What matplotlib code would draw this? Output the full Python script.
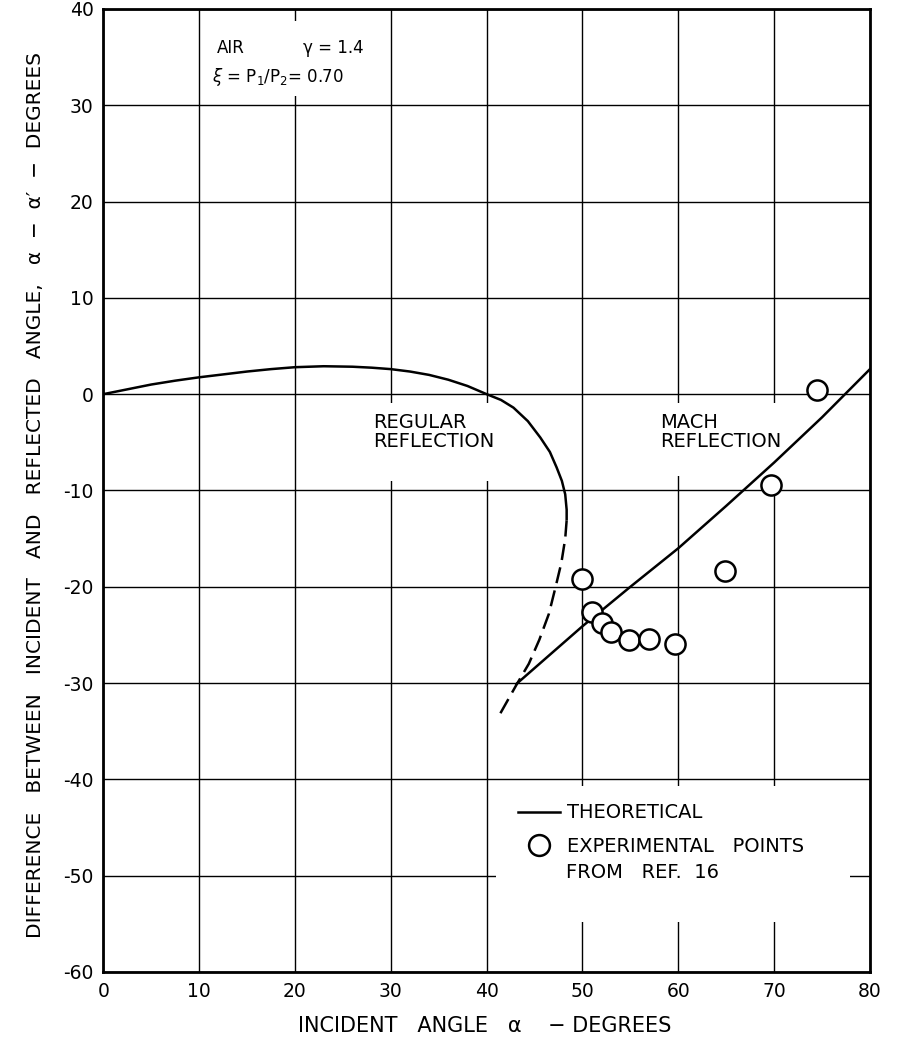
import matplotlib
matplotlib.use("Agg")
import matplotlib.pyplot as plt
from matplotlib.patches import Rectangle
from matplotlib.lines import Line2D

plt.rcParams['font.family'] = ['DejaVu Sans']
plt.rcParams['mathtext.fontset'] = 'dejavusans'

# ---- data ----
x_ticks = [0, 10, 20, 30, 40, 50, 60, 70, 80]
y_ticks = [-60, -50, -40, -30, -20, -10, 0, 10, 20, 30, 40]
x_ticklabels = ['0', '10', '20', '30', '40', '50', '60', '70', '80']
y_ticklabels = ['-60', '-50', '-40', '-30', '-20', '-10', '0', '10', '20', '30', '40']

# regular reflection, theoretical (solid part)
regular_x = [0, 2.5, 5, 7.5, 10, 12.5, 15, 17.5, 20, 23, 26, 28, 30, 32, 34, 36, 38, 40,
             41.5, 42.8, 44.3, 45.6, 46.6, 47.3, 47.85, 48.2, 48.35, 48.35]
regular_y = [0, 0.5, 1.0, 1.4, 1.75, 2.05, 2.35, 2.6, 2.8, 2.9, 2.85, 2.75, 2.6, 2.35, 2.0, 1.5, 0.85, 0.0,
             -0.6, -1.4, -2.8, -4.5, -6.0, -7.6, -9.0, -10.4, -12.0, -13.1]

# regular reflection, theoretical continuation (dashed)
regular_dash_x = [48.35, 48.2, 47.8, 47.2, 46.5, 45.5, 44.4, 43.1, 41.4]
regular_dash_y = [-13.1, -15.0, -17.5, -20.0, -22.8, -25.5, -28.0, -30.2, -33.2]

# Mach reflection, theoretical
mach_x = [43.1, 50, 55, 60, 65, 70, 75, 80]
mach_y = [-30.1, -24.1, -20.0, -16.0, -11.6, -7.1, -2.4, 2.6]

# experimental points from Ref. 16
exp_x = [49.9, 51.0, 52.0, 53.0, 54.85, 56.9, 59.7, 64.9, 69.7, 74.5]
exp_y = [-19.2, -22.65, -23.8, -24.7, -25.5, -25.4, -25.9, -18.35, -9.45, 0.4]

# ---- figure ----
fig = plt.figure(figsize=(8.98, 10.41), dpi=100)
ax = fig.add_axes([0.115, 0.0663, 0.8538, 0.9251])
ax.set_xlim(0, 80)
ax.set_ylim(-60, 40)
ax.set_xticks(x_ticks)
ax.set_xticklabels(x_ticklabels)
ax.set_yticks(y_ticks)
ax.set_yticklabels(y_ticklabels)
ax.tick_params(length=0, labelsize=13.5, pad=7)
ax.set_axisbelow(True)
ax.grid(True, color='black', linewidth=1.0)
for s in ax.spines.values():
    s.set_linewidth(2.0)

# white blank areas behind labels (grid interrupted)
for (x0, y0, w, h) in [(12, 31.0, 16, 7.8), (28.8, -9.0, 12.2, 8.1),
                       (58.0, -8.5, 13.0, 7.6), (41.0, -54.8, 36.9, 14.1)]:
    ax.add_patch(Rectangle((x0, y0), w, h, facecolor='white', edgecolor='none', zorder=1))

lw = 1.8
ax.plot(regular_x, regular_y, color='black', lw=lw, zorder=3, solid_capstyle='butt')
ax.plot(regular_dash_x, regular_dash_y, color='black', lw=lw, zorder=3, dashes=(6.5, 3))
ax.plot(mach_x, mach_y, color='black', lw=lw, zorder=3)
ax.plot(exp_x, exp_y, ls='none', marker='o', ms=14.5, mfc='white', mec='black', mew=1.8, zorder=4)

# annotations
ax.text(28.15, -3.9, 'REGULAR\nREFLECTION', fontsize=14, va='center', ha='left', linespacing=1.0, zorder=5)
ax.text(58.1, -3.9, 'MACH\nREFLECTION', fontsize=14, va='center', ha='left', linespacing=1.0, zorder=5)
ax.text(11.86, 35.9, 'AIR', fontsize=12, va='center', ha='left', zorder=5)
ax.text(20.87, 35.9, 'γ = 1.4', fontsize=12, va='center', ha='left', zorder=5)
ax.text(11.3, 32.9, r'$\xi$ = P$_1$/P$_2$= 0.70', fontsize=12, va='center', ha='left', zorder=5)

# legend
handles = [Line2D([], [], color='black', lw=lw),
           Line2D([], [], ls='none', marker='o', ms=15, mfc='white', mec='black', mew=1.8)]
leg = ax.legend(handles, ['THEORETICAL', 'EXPERIMENTAL   POINTS'], loc='upper left',
                bbox_to_anchor=(43.26, -42.5), bbox_transform=ax.transData,
                frameon=False, fontsize=14, handlelength=2.15, handletextpad=0.36,
                labelspacing=0.75, borderpad=0, borderaxespad=0)
leg.set_zorder(6)
ax.text(48.27, -49.7, 'FROM   REF.  16', fontsize=14, va='center', ha='left', zorder=6)

# axis labels
fig.text(0.039, 0.5245,
         'DIFFERENCE   BETWEEN   INCIDENT   AND   REFLECTED   ANGLE,   α  −  α′  −  DEGREES',
         rotation=90, ha='center', va='center', fontsize=14.5)
fig.text(0.5395, 0.0146, 'INCIDENT   ANGLE   α    − DEGREES', ha='center', va='center', fontsize=15)

fig.savefig('out.png', dpi=100)
